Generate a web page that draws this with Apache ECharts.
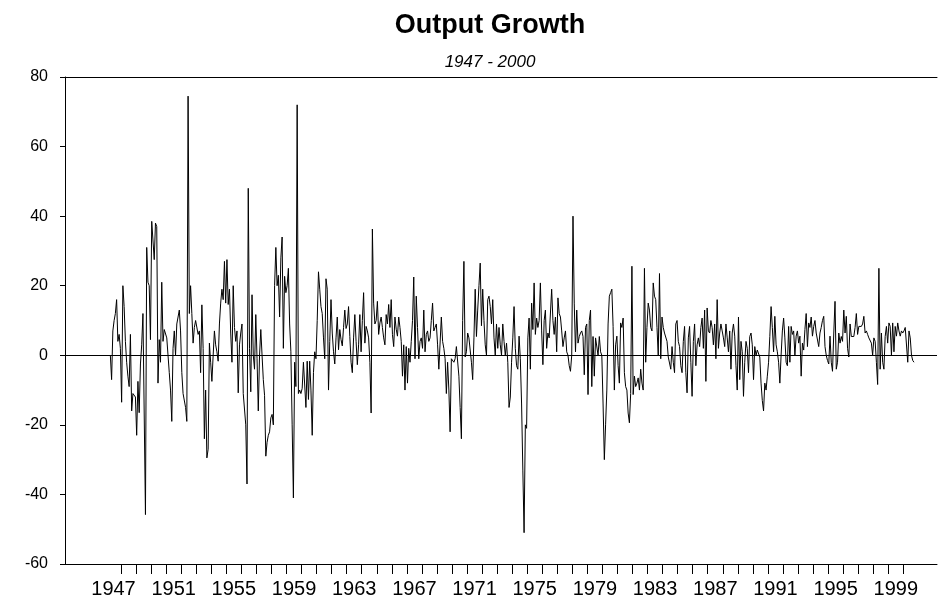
<!DOCTYPE html>
<html>
<head>
<meta charset="utf-8">
<script src="https://cdn.jsdelivr.net/npm/echarts@6/dist/echarts.min.js"></script>
<style>
  html, body { margin: 0; padding: 0; background: #fff; }
  #chart { width: 952px; height: 605px; }
</style>
</head>
<body>
<div id="chart"></div>
<script>
// monthly output growth (annualized %), first observation 1947:04
const startYear = 1947
const startMonth = 4

const growth1940s = [0, -7, 7, 10, 12, 16, 4, 6, 2, -13.5, 20, 14, 4, -2, -6, -9, 6, -16, -11, -11.5, -12, -23, -7.5, -16.5, -2.5, 3, 12, 11.5, -45.8, 31, 21, 20, 4.5]
const growth1950s = [38.5, 39, 27.5, 38, 37, -8, 4.5, -2, 21, 4, 7.4, 7, 5, 0, -5, -10, -19, 2, 7, 0, 9, 9, 13, 7, -5, -11, -11,
  -15, -19, 74.5, 12, 20, 12, 3.5, 8, 10, 10, 6, 7, -5, 14.5, 2, -24, -10, -29.5, -27, 3.5, -2, -7.5, 0, 7, 3, 1, -1.7, 9, 15, 19, 16, 27, 15, 27.5, 14.6, 19, 6.4, -2, 20, 8, 4, 7, -10.8, 3, 6.4, 9, -11, -10.5, -20, -37, 48, 2, -10.5, 17.4, 0, -4, 11.7, -1, -16, 0, 7.4, 0, -7, -11.5, -29, -25, -23, -22,
  -18, -17, -20, 20, 31, 20, 23, 11, 28, 34, 2, 22.7, 18, 20, 25, 9, 1, -20, -41, -2, -9, 72, -11, -10, -11]
const growth1960s = [-9.5, -2, -1.7, -15, -1.7, -12.7, -1.7, -10, -23, -5, 1, -1, 10, 24, 19, 14, 12, 5, -1, 22, 19, -10, 4, 16, 6.4, 1, -2.5, 5, 11, 1.6, 7.4, 4.5, 2.7, 8, 13, 7.7, 9, 14, 5.4, -2, -5, 5, 11.7,
  4, -2.7, 3, 11.7, 1, 10, 18, 3.5, 8.3, 7, 5, -2, -16.6, 36.3, 15, 9, 10, 15.5, 6, 9.3, 11, 8, 5, 3, 11.7, 9, 14.6, 8, 16, 6, 2.5, 11, 7.5, 5.5, 11, 8, 4, -6, 3, -10, 2.5, -8, 2, -2, 4, 10, 22.5, -1, 17, 8, -1, 4, 5, 2, 13, 1, 6, 7, 4, 5, 10, 15, 7, 8, 9, 3, -4,
  -4, 11, 4, 2, -1, -11, -2, -10, -22, -1]
const growth1970s = [-1.5, -2, -1, 2.5, 3, -6, -15, -24, 10, 27, -0.5, 1, 6.4, 5, 5, -2, -7, 5, 19, 5.4, 13, 20, 26.5, 8.5, 19, 10, 3, 0, 16, 17, 14, 9, 16, 5, 0, 9, 2, 8, 3, 0, 9, 4, 0, 3.5, -2, -15, -12, -2, 5, 14, 2, -3, -4, 5.5, -1, -14, -33, -51,
  -20, -21, 5, 10.7, -4, 15, 7.4, 20.8, 6, 10.7, 8, 10, 20.8, 7, -2.7, 10, 13, 2, 6.4, 5, 4.5, 19, 10, 6, 11, 1, 16.5, 12, 11, 7, 2.5, 5, 7, 1, 0, -3, -4.6, 0, 40, 15, 1, 13, 3.5, 5.4, 6.4, 7, 5.4, -5.6, 8, 9, -11.3, 10, 13, -9, 5.4, -6, 5, 5.4, 0, 5.4, 1, 0]
const growth1980s = [-14, -30, -20, -10, 9, 17,
  18, 19, 8.3, -10, 3, 5.5, -3, -8, 9.3, 8, 10.7, -5, -9, -10, -16.6, -19.4, -11, 25.6, -11.3, -6, -9, -8, -6.5, -10, -4, -8, -10, 25, -2, 8, 15, 13, 8, 7, 20.8, 17, 16, 8, 0, 23.5, -1, 11, 8, 6.4, 6.4, 4, -0.5, -1, -4, 2.5, -2, -5, 9, 10, 4, 2.5, -3, -5, 4, 8.3, -5, -10.8, 5, 8.3, -2, -11.8, 4, 9,
  -3, 3, 5, 2.5, 8, 10.7, 2, 13, -7.5, 13.6, 7, 6.4, 10, 8, 3, 9, -1, 16, 2, 6.4, 9, 7, 5, 2.5, 9, 5, 1, 7, -4, 6.4, 9, 5.5, -3, -10, 11, -7, 4, 1, -11.8, -2, 4, 2, -5, 5.4, 6.4, 3]
const growth1990s = [-7, 2.5, 0, 1.5, 1, -0.5, -8, -13, -16, -8, -10, -6, -2, 5.4, 14, 8, 1, 11.2, 3, 1, -2, -8,
  0, 7, 10.7, 5, -2, -3, 8.3, -2, 8.3, 6, 7, 0, 5.5, 7, 3.5, 5.5, -6, 3.5, 1.5, 7.4, 12, 2.5, 9.3, 8, 11, 5.5, 8.3, 10, 6.4, 6.4, 2.5, 6.4, 8, 10, 11.2, 2.5, 0, -1.5, -2.5, 5.5, -2, -4.6, 6.4, 15.5, -4, -2, 6.4, 3.5, 5.4, 4, 13, 6.4, 11.2, 2, -0.5, 9, 5.4, 5.4, 5.4, 8, 12, 6, 8.3, 8.3, 8.3, 9, 11.2,
  6.4, 7, 6, 5, 5.5, 3.5, 0, 5, 4, -2, -8.4, 25, -4, 6.4, -2, -4, 5.4, 8.3, 3.5, 9.3, 8.3, 0, 9.3, 1, 8.3, 5.5, 9.3, 7, 5.5, 7, 6.4]
const growth2000 = [7, 8, 8.3, -2, 7, 5, 0, -1.5, -2]

const growth = [].concat(growth1940s, growth1950s, growth1960s, growth1970s, growth1980s, growth1990s, growth2000)

// each month sits in the middle of its slot on a fractional-year axis
const points = growth.map((v, i) => {
  const m = startMonth - 1 + i
  return [startYear + (m + 0.5) / 12, v]
})

const yMin = -60
const yMax = 80
const yStep = 20
// year range covered by the plot frame
const xMin = 1944.2775
const xMax = 2002.2366

const chart = echarts.init(document.getElementById('chart'), null, { renderer: 'canvas' })
const font = 'Liberation Sans, Arial, sans-serif'

const hiddenX = (gridIndex, extra) => Object.assign({
  gridIndex, type: 'value',
  axisLine: { show: false, onZero: false },
  axisTick: { show: false }, axisLabel: { show: false }, splitLine: { show: false }
}, extra)
const blackLine = { show: true, onZero: false, lineStyle: { color: '#000', width: 1 } }

chart.setOption({
  animation: false,
  backgroundColor: '#fff',
  textStyle: { fontFamily: font },
  title: [
    {
      text: 'Output Growth',
      left: 490, top: 12, textAlign: 'center', padding: 0,
      textStyle: { fontFamily: font, fontWeight: 'bold', fontSize: 27, color: '#000' }
    },
    {
      text: '1947 - 2000',
      left: 490, top: 54, textAlign: 'center', padding: 0,
      textStyle: { fontFamily: font, fontStyle: 'italic', fontWeight: 'normal', fontSize: 17, color: '#000' }
    }
  ],
  grid: [
    // frame and data
    { left: 65, right: 15, top: 77, bottom: 41 },
    // year boundary ticks, 1948..2000
    { left: 121, right: 48.7, top: 77, bottom: 41 },
    // year labels, centred in their year
    { left: 113.5, right: 56.2, top: 77, bottom: 41 }
  ],
  xAxis: [
    hiddenX(0, { min: xMin, max: xMax, axisLine: blackLine }),
    hiddenX(0, { min: 0, max: 1, position: 'top', axisLine: blackLine }),
    hiddenX(1, {
      min: 1948, max: 2000, interval: 1,
      axisLine: blackLine,
      axisTick: { show: true, length: 10, lineStyle: { color: '#000', width: 1 } }
    }),
    hiddenX(2, {
      min: 1947.5, max: 1999.5, interval: 4,
      axisLabel: {
        show: true, margin: 15, color: '#000', fontSize: 20, fontFamily: font,
        formatter: v => String(Math.floor(v + 0.01))
      }
    })
  ],
  yAxis: [
    {
      gridIndex: 0, type: 'value', min: yMin, max: yMax, interval: yStep,
      axisLine: blackLine,
      axisTick: { show: true, length: 5, lineStyle: { color: '#000' } },
      axisLabel: { color: '#000', fontSize: 16, margin: 17, fontFamily: font },
      splitLine: { show: false }
    },
    { gridIndex: 1, type: 'value', min: yMin, max: yMax, show: false },
    { gridIndex: 2, type: 'value', min: yMin, max: yMax, show: false }
  ],
  series: [
    {
      name: 'Output Growth',
      type: 'line',
      xAxisIndex: 0, yAxisIndex: 0,
      data: points,
      showSymbol: false,
      lineStyle: { color: '#000', width: 1 },
      markLine: {
        silent: true, symbol: 'none', label: { show: false },
        lineStyle: { color: '#000', width: 1, type: 'solid' },
        data: [{ yAxis: 0 }]
      }
    }
  ]
})
</script>
</body>
</html>
